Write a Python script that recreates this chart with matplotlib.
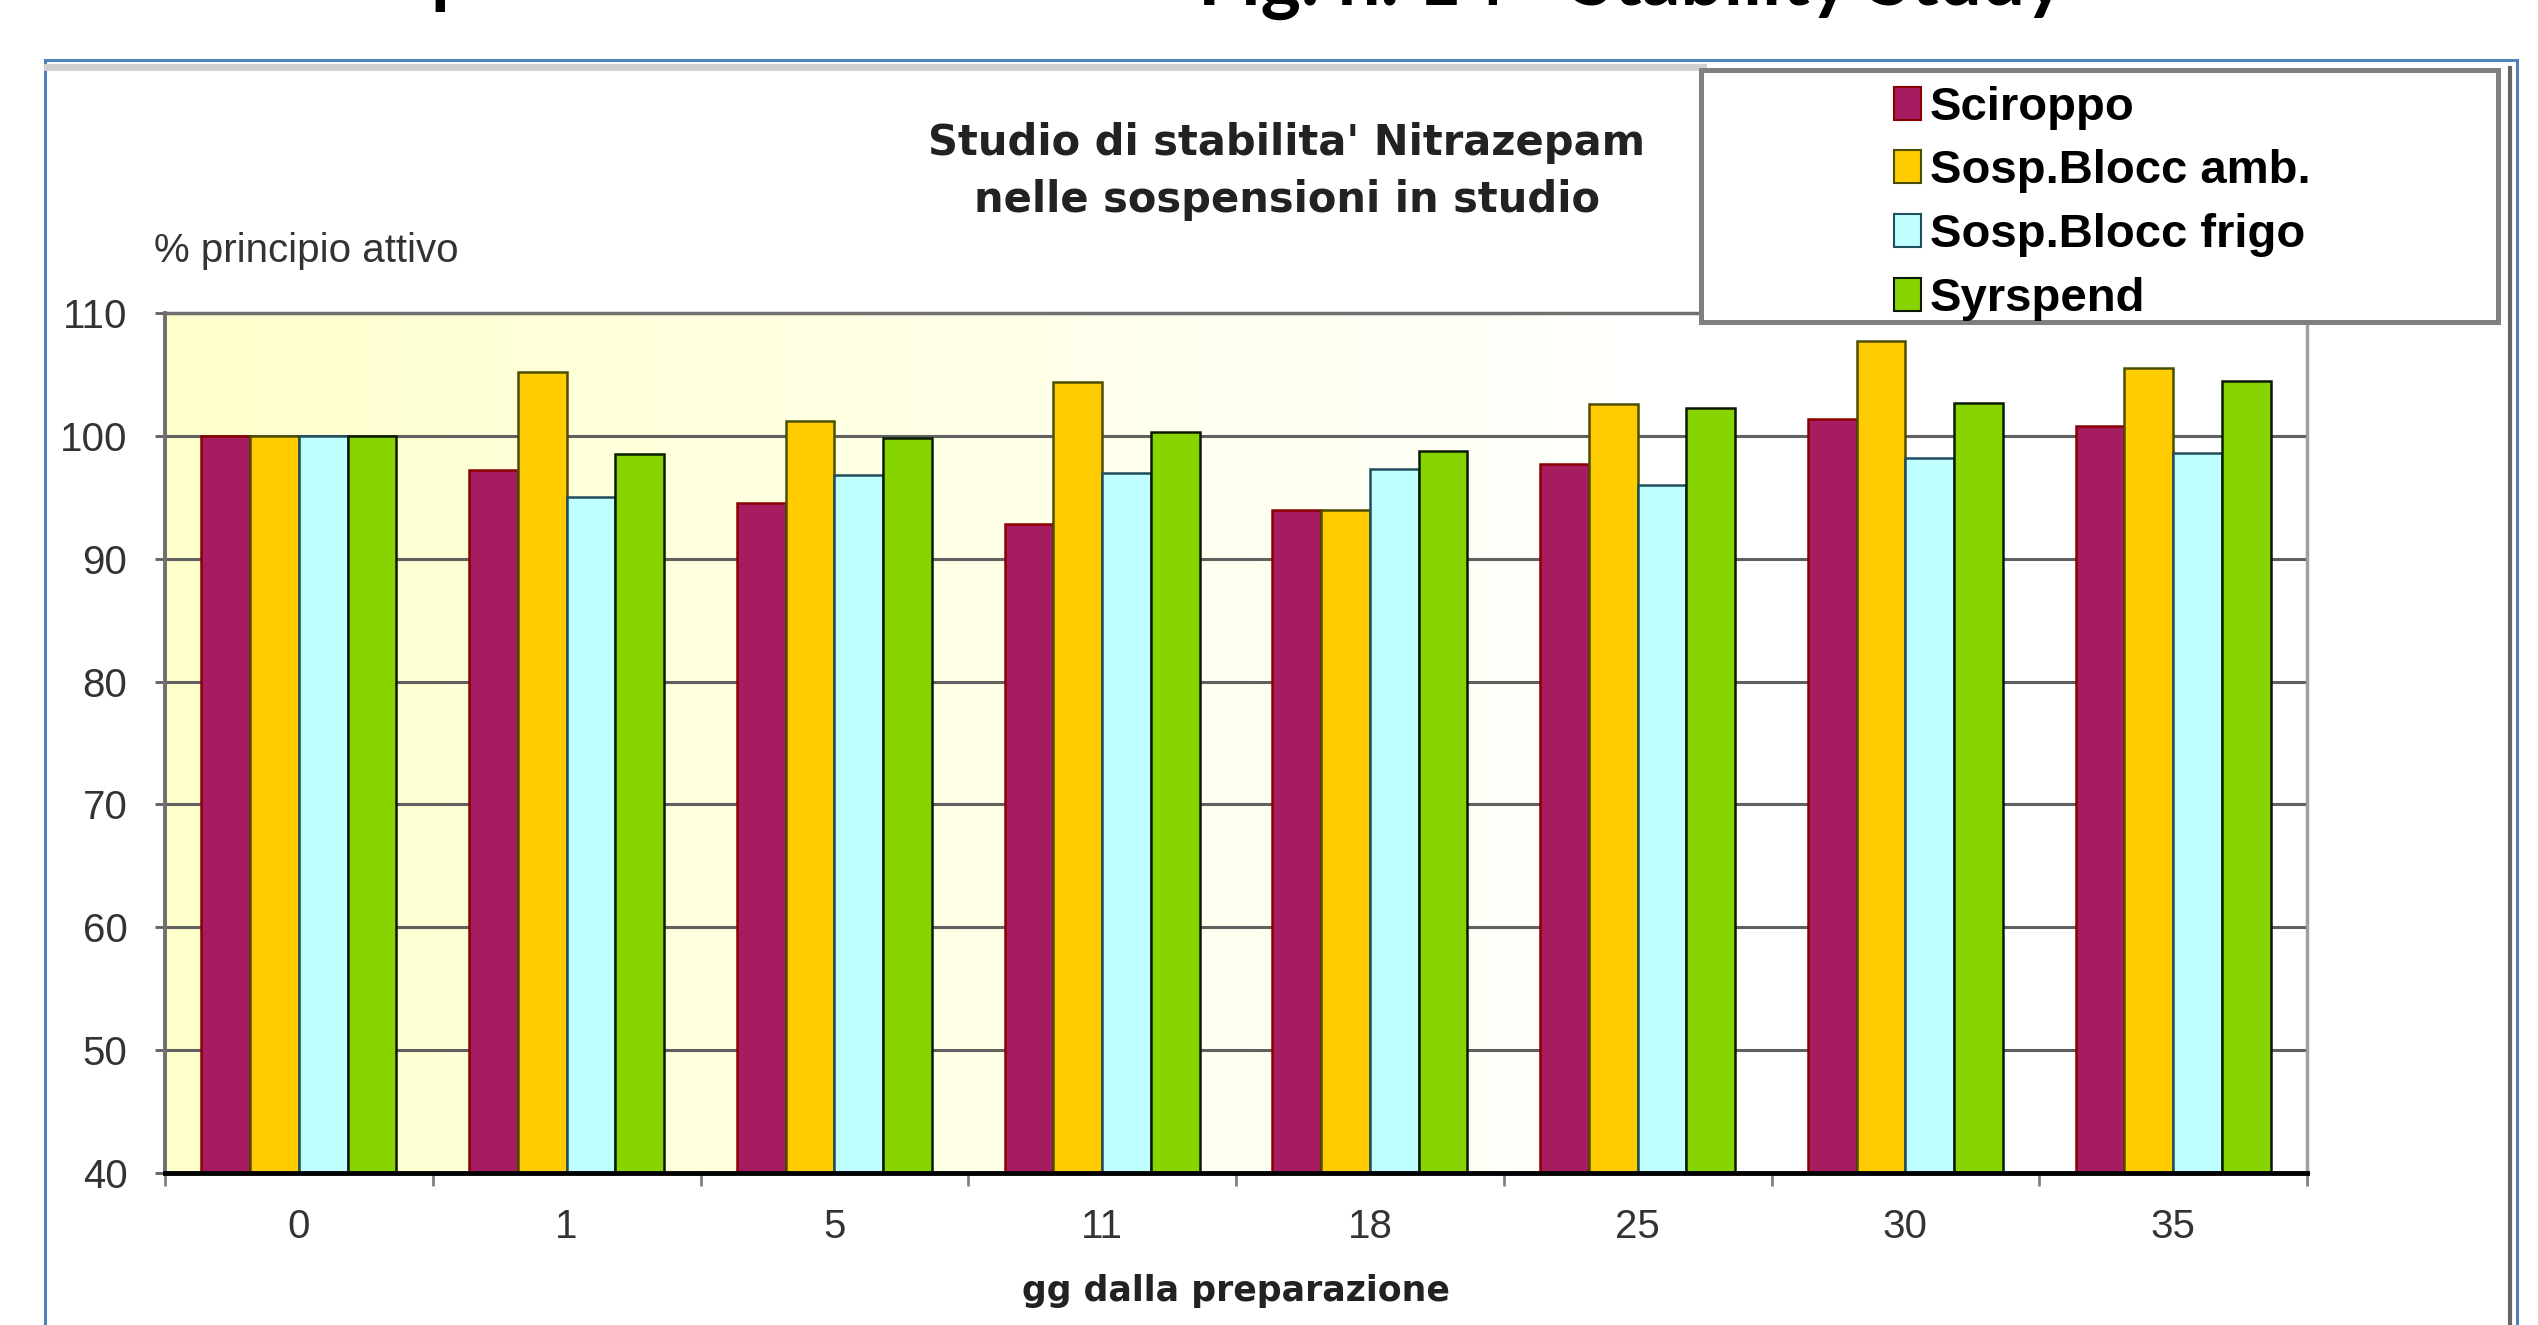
import numpy as np
import matplotlib.pyplot as plt
from matplotlib.patches import Patch, Rectangle
from matplotlib.lines import Line2D

# ---------------- DATA ----------------
days = ["0", "1", "5", "11", "18", "25", "30", "35"]
series_names = ["Sciroppo", "Sosp.Blocc amb.", "Sosp.Blocc frigo", "Syrspend"]
sciroppo = [100, 97.2, 94.5, 92.8, 94.0, 97.7, 101.4, 100.8]
sosp_amb = [100, 105.2, 101.2, 104.4, 94.0, 102.6, 107.7, 105.5]
sosp_frigo = [100, 95.0, 96.8, 97.0, 97.3, 96.0, 98.2, 98.6]
syrspend = [100, 98.5, 99.8, 100.3, 98.8, 102.3, 102.7, 104.5]
y_ticks = [40, 50, 60, 70, 80, 90, 100, 110]

fill_colors = ["#A61C60", "#FFCC00", "#C0FFFF", "#88D400"]
edge_colors = ["#8B0000", "#4D4D00", "#1F4F5F", "#0A1A00"]

W, H = 2538, 1325

# ---------------- FIGURE ----------------
fig = plt.figure(figsize=(W / 100, H / 100), dpi=100)
ax = fig.add_axes([165 / W, 1 - 1173 / H, (2307 - 165) / W, (1173 - 313) / H])

# pale yellow gradient background of the plot area
grad = np.linspace(0, 1, 256)
t = np.clip(grad / 0.7, 0, 1)
bg = np.ones((2, 256, 3))
bg[:, :, 2] = 0.80 + 0.20 * t
ax.imshow(bg, extent=(-0.5, len(days) - 0.5, 40, 110), aspect="auto", zorder=0)

# ---------------- BARS ----------------
x = np.arange(len(days))
width = 0.182
all_series = [sciroppo, sosp_amb, sosp_frigo, syrspend]
for i, values in enumerate(all_series):
    ax.bar(
        x + (i - 1.5) * width,
        values,
        width=width,
        bottom=0,
        color=fill_colors[i],
        edgecolor=edge_colors[i],
        linewidth=1.8,
        zorder=2,
    )

ax.set_xlim(-0.5, len(days) - 0.5)
ax.set_ylim(40, 110)
ax.set_yticks(y_ticks)
ax.set_xticks(x)
ax.set_xticklabels(days)
ax.set_xticks(np.arange(len(days) + 1) - 0.5, minor=True)

ax.yaxis.grid(True, color="#606060", linewidth=2.2, zorder=1)
ax.set_axisbelow(True)

ax.tick_params(axis="y", direction="out", length=7, width=2, color="#606060",
               pad=20, labelsize=29, labelcolor="#333333")
ax.tick_params(axis="x", which="major", length=0, pad=25, labelsize=29,
               labelcolor="#333333")
ax.tick_params(axis="x", which="minor", direction="out", length=9, width=2,
               color="#808080")
for lbl in ax.get_xticklabels() + ax.get_yticklabels():
    lbl.set_fontfamily("Liberation Sans")

ax.spines["left"].set_color("#707070")
ax.spines["left"].set_linewidth(2.8)
ax.spines["top"].set_color("#707070")
ax.spines["top"].set_linewidth(2.5)
ax.spines["right"].set_color("#A0A0A0")
ax.spines["right"].set_linewidth(2.5)
ax.spines["bottom"].set_color("black")
ax.spines["bottom"].set_linewidth(3.5)
for sp in ax.spines.values():
    sp.set_zorder(3)

ax.set_xlabel("gg dalla preparazione", fontsize=25, fontweight="bold",
              family="DejaVu Sans", color="#222222", labelpad=20)

# ---------------- FRAME ----------------
fig.patches.append(Rectangle((45 / W, -0.1), (2517 - 45) / W, 1 - 60 / H + 0.1,
                             transform=fig.transFigure, fill=False,
                             edgecolor="#4F81BD", linewidth=2.2))
fig.lines.append(Line2D([47 / W, 1703 / W], [1 - 67 / H] * 2, transform=fig.transFigure,
                        color="#D0D0D0", linewidth=5))
fig.lines.append(Line2D([2510 / W] * 2, [0, 1 - 68 / H], transform=fig.transFigure,
                        color="#666666", linewidth=3))

# legend box
fig.patches.append(Rectangle((1701 / W, 1 - 322 / H), (2498 - 1701) / W, (322 - 70) / H,
                             transform=fig.transFigure, facecolor="white",
                             edgecolor="#808080", linewidth=3.6, zorder=2))
handles = [Patch(facecolor=fill_colors[i], edgecolor=edge_colors[i], linewidth=1.5)
           for i in range(4)]
fig.legend(handles, series_names, loc="upper left",
           bbox_to_anchor=(1870 / W, 1 - 62 / H), frameon=False, borderpad=0,
           handlelength=0.57, handleheight=0.7, handletextpad=0.2,
           labelspacing=0.42, prop={"family": "Liberation Sans", "weight": "bold", "size": 34})

# ---------------- TEXTS ----------------
fig.text(1287 / W, 1 - 155 / H, "Studio di stabilita' Nitrazepam", ha="center",
         va="baseline", fontsize=30, fontweight="bold", family="DejaVu Sans", color="#222222")
fig.text(1287 / W, 1 - 212 / H, "nelle sospensioni in studio", ha="center",
         va="baseline", fontsize=30, fontweight="bold", family="DejaVu Sans", color="#222222")
fig.text(154 / W, 1 - 262 / H, "% principio attivo", ha="left", va="baseline",
         fontsize=29, family="Liberation Sans", color="#333333")

# heading above the chart, cut by the top edge as in the source page
fig.text(1198 / W, 1 - 5 / H, "Fig. n. 14 - Stability Study", ha="left", va="baseline",
         fontsize=55, fontweight="bold", family="Lato", color="black")
fig.text(430 / W, 1 + 1 / H, "p", ha="left", va="baseline",
         fontsize=55, fontweight="bold", family="Lato", color="black")

fig.savefig("out.png", dpi=100)
